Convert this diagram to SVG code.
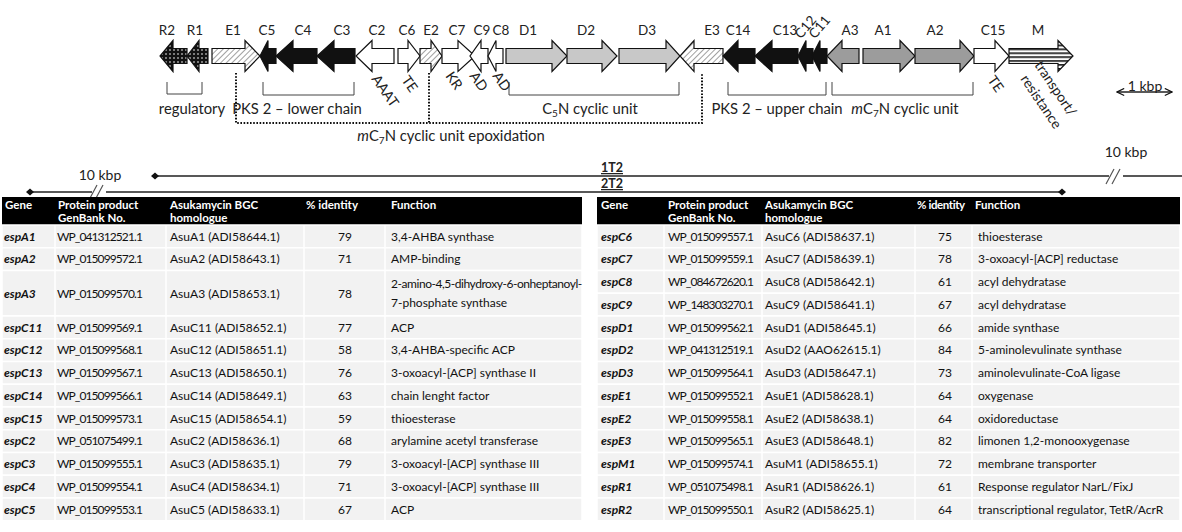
<svg xmlns="http://www.w3.org/2000/svg" width="1182" height="532" viewBox="0 0 1182 532">
<defs>
<pattern id="dots" width="4" height="4" patternUnits="userSpaceOnUse"><rect width="4" height="4" fill="#111"/><circle cx="2" cy="2" r="0.8" fill="#fff"/></pattern>
<pattern id="hatch" width="4" height="4" patternUnits="userSpaceOnUse" patternTransform="rotate(45)"><rect width="4" height="4" fill="#fff"/><line x1="0" y1="0" x2="0" y2="4" stroke="#777" stroke-width="1.4"/></pattern>
<pattern id="stripes" width="10" height="3.9" y="48.5" patternUnits="userSpaceOnUse"><rect width="10" height="3.9" fill="#fff"/><rect y="0" width="10" height="1.6" fill="#111"/></pattern>
<marker id="ah" viewBox="0 0 10 10" refX="9" refY="5" markerWidth="9" markerHeight="9" orient="auto-start-reverse" markerUnits="userSpaceOnUse"><path d="M1,1 L9,5 L1,9" fill="none" stroke="#111" stroke-width="1.3"/></marker>
</defs>
<style>
text{font-family:Lato,"Liberation Sans",sans-serif;fill:#222}
.gl{font-size:13.5px;text-anchor:middle}
.lb{font-size:14.8px}
.rl{font-size:14px}
.g{stroke:#111;stroke-width:1.2;stroke-linejoin:miter}
.blk{fill:#111}.wht{fill:#fff}.lg{fill:#c8c8c8}.mg{fill:#9c9c9c}
.hat{fill:url(#hatch)}.dot{fill:url(#dots)}.str{fill:url(#stripes)}
.br{fill:none;stroke:#444;stroke-width:1}
.dl{fill:none;stroke:#111;stroke-width:2;stroke-dasharray:1.6 1.6}
.sl{stroke:#222;stroke-width:1.3;fill:none}
.th{font-size:11.5px;fill:#fff;font-weight:700}
.td{font-size:12px;fill:#111}
.wp{letter-spacing:-0.9px}
.gn{font-weight:700;font-style:italic}
.c{text-anchor:middle}
.hd{fill:#000}
.row{fill:#f2f2f2;stroke:#fff;stroke-width:1.5}
</style>

<g id="gene-labels">
<text class="gl" x="167" y="35">R2</text><text class="gl" x="195" y="35">R1</text><text class="gl" x="233" y="35">E1</text><text class="gl" x="267" y="35">C5</text><text class="gl" x="303" y="35">C4</text><text class="gl" x="342" y="35">C3</text><text class="gl" x="377" y="35">C2</text><text class="gl" x="407" y="35">C6</text><text class="gl" x="431" y="35">E2</text><text class="gl" x="457" y="35">C7</text><text class="gl" x="482" y="35">C9</text><text class="gl" x="501" y="35">C8</text><text class="gl" x="528" y="35">D1</text><text class="gl" x="586" y="35">D2</text><text class="gl" x="647" y="35">D3</text><text class="gl" x="712" y="35">E3</text><text class="gl" x="738" y="35">C14</text><text class="gl" x="785" y="35">C13</text>
<text class="gl" x="0" y="0" transform="translate(809,30) rotate(-50)">C12</text><text class="gl" x="0" y="0" transform="translate(823,30) rotate(-50)">C11</text>
<text class="gl" x="850" y="35">A3</text><text class="gl" x="883" y="35">A1</text><text class="gl" x="935" y="35">A2</text><text class="gl" x="993" y="35">C15</text><text class="gl" x="1038" y="35">M</text>
</g>

<g id="genes" class="g">
<polygon id="R2" class="dot" points="187,48.5 173,48.5 173,40.5 160,56 173,71.5 173,63.5 187,63.5"/>
<polygon id="R1" class="dot" points="208,48.5 199,48.5 199,40.5 187,56 199,71.5 199,63.5 208,63.5"/>
<polygon id="E1" class="hat" points="212,48.5 245,48.5 245,40.5 260,56 245,71.5 245,63.5 212,63.5"/>
<polygon id="C5" class="blk" points="276,48.5 268,48.5 268,40.5 260,56 268,71.5 268,63.5 276,63.5"/>
<polygon id="C4" class="blk" points="317,48.5 293,48.5 293,40.5 276,56 293,71.5 293,63.5 317,63.5"/>
<polygon id="C3" class="blk" points="355,48.5 334,48.5 334,40.5 317,56 334,71.5 334,63.5 355,63.5"/>
<polygon id="C2" class="wht" points="394,48.5 372,48.5 372,40.5 356,56 372,71.5 372,63.5 394,63.5"/>
<polygon id="C6" class="wht" points="398,48.5 408,48.5 408,40.5 420,56 408,71.5 408,63.5 398,63.5"/>
<polygon id="E2" class="hat" points="420,48.5 431,48.5 431,40.5 442,56 431,71.5 431,63.5 420,63.5"/>
<polygon id="C7" class="wht" points="442,48.5 458,48.5 458,40.5 475,56 458,71.5 458,63.5 442,63.5"/>
<polygon id="C9" class="wht" points="488,48.5 481,48.5 481,40.5 470,56 481,71.5 481,63.5 488,63.5"/>
<polygon id="C8" class="wht" points="503,48.5 496,48.5 496,40.5 488,56 496,71.5 496,63.5 503,63.5"/>
<polygon id="D1" class="lg" points="506,48.5 552,48.5 552,40.5 567,56 552,71.5 552,63.5 506,63.5"/>
<polygon id="D2" class="lg" points="567,48.5 602,48.5 602,40.5 617,56 602,71.5 602,63.5 567,63.5"/>
<polygon id="D3" class="lg" points="619,48.5 666,48.5 666,40.5 680,56 666,71.5 666,63.5 619,63.5"/>
<polygon id="E3" class="hat" points="723,48.5 694,48.5 694,40.5 680,56 694,71.5 694,63.5 723,63.5"/>
<polygon id="C14" class="blk" points="755,48.5 738,48.5 738,40.5 723,56 738,71.5 738,63.5 755,63.5"/>
<polygon id="C13" class="blk" points="798,48.5 772,48.5 772,40.5 755,56 772,71.5 772,63.5 798,63.5"/>
<polygon id="C12" class="blk" points="813,48.5 806,48.5 806,40.5 798,56 806,71.5 806,63.5 813,63.5"/>
<polygon id="C11" class="blk" points="827,48.5 820,48.5 820,40.5 812,56 820,71.5 820,63.5 827,63.5"/>
<polygon id="A3" class="mg" points="859,48.5 842,48.5 842,40.5 827,56 842,71.5 842,63.5 859,63.5"/>
<polygon id="A1" class="mg" points="863,48.5 900,48.5 900,40.5 915,56 900,71.5 900,63.5 863,63.5"/>
<polygon id="A2" class="mg" points="915,48.5 960,48.5 960,40.5 974,56 960,71.5 960,63.5 915,63.5"/>
<polygon id="C15" class="wht" points="974,48.5 995,48.5 995,40.5 1009,56 995,71.5 995,63.5 974,63.5"/>
<polygon id="M" class="str" points="1009,48.5 1058,48.5 1058,40.5 1073,56 1058,71.5 1058,63.5 1009,63.5"/>
</g>

<g id="annotations">
<path class="br" d="M167,82V94H202V82 M263,82V95H354V82 M509,82V95H679V82 M728,82V95H826V82 M832,82V95H973V82"/>
<path class="dl" d="M236,73V123H702V73 M429,73V123"/>
<text class="lb c" x="192" y="114">regulatory</text>
<text class="lb c" x="297" y="114">PKS 2 – lower chain</text>
<text class="lb c" x="590" y="114">C<tspan font-size="10" dy="3">5</tspan><tspan dy="-3">N cyclic unit</tspan></text>
<text class="lb c" x="777" y="114">PKS 2 – upper chain</text>
<text class="lb c" x="905" y="114"><tspan font-style="italic">m</tspan>C<tspan font-size="10" dy="3">7</tspan><tspan dy="-3">N cyclic unit</tspan></text>
<text class="lb c" x="451" y="141"><tspan font-style="italic">m</tspan>C<tspan font-size="10" dy="3">7</tspan><tspan dy="-3">N cyclic unit epoxidation</tspan></text>
<text class="rl" transform="translate(371,79) rotate(55)">AAAT</text>
<text class="rl" transform="translate(401,80) rotate(55)">TE</text>
<text class="rl" transform="translate(445,76) rotate(55)">KR</text>
<text class="rl" transform="translate(469,76) rotate(55)">AD</text>
<text class="rl" transform="translate(492,76) rotate(55)">AD</text>
<text class="rl" transform="translate(987,80) rotate(55)">TE</text>
<text class="rl" transform="translate(1034,65) rotate(56)">transport/</text>
<text class="rl" transform="translate(1020,79) rotate(56)">resistance</text>
</g>

<g id="scale">
<line class="sl" x1="1117" y1="92" x2="1172" y2="92" marker-start="url(#ah)" marker-end="url(#ah)"/>
<text class="rl c" x="1145" y="91">1 kbp</text>
<text class="rl c" x="1126" y="157">10 kbp</text>
<text class="rl c" x="100" y="180">10 kbp</text>
</g>

<g id="contigs">
<path class="sl" d="M155,176H1109 M1123,176H1182 M30,192H92 M106,192H1062"/>
<path d="M151,176l4,-3.5l4,3.5l-4,3.5z M26,192l4,-3.5l4,3.5l-4,3.5z M1058,192l4,-3.5l4,3.5l-4,3.5z" fill="#111"/>
<path d="M1106,184l8,-15 M1112,184l8,-15 M89,200l8,-15 M95,200l8,-15" stroke="#555" stroke-width="1.2" fill="none"/>
<text class="c" x="612" y="172" font-size="12.5" font-weight="700" text-decoration="underline">1T2</text>
<text class="c" x="612" y="188" font-size="12.5" font-weight="700" text-decoration="underline">2T2</text>
</g>

<g id="table-left">
<rect class="hd" x="2" y="197" width="580" height="28"/>
<text class="th" x="5" y="208.5">Gene</text><text class="th" x="58" y="208.5">Protein product</text><text class="th" x="58" y="221.8">GenBank  No.</text><text class="th" x="170" y="208.5">Asukamycin BGC</text><text class="th" x="170" y="221.8">homologue</text><text class="th" x="306" y="208.5">% identity</text><text class="th" x="391" y="208.5">Function</text>
<g>
<rect class="row" x="2" y="225" width="580" height="22.75"/>
<rect class="row" x="2" y="247.75" width="580" height="22.75"/>
<rect class="row" x="2" y="270.5" width="580" height="45.5"/>
<rect class="row" x="2" y="316" width="580" height="22.75"/>
<rect class="row" x="2" y="338.75" width="580" height="22.75"/>
<rect class="row" x="2" y="361.5" width="580" height="22.75"/>
<rect class="row" x="2" y="384.25" width="580" height="22.75"/>
<rect class="row" x="2" y="407" width="580" height="22.75"/>
<rect class="row" x="2" y="429.75" width="580" height="22.75"/>
<rect class="row" x="2" y="452.5" width="580" height="22.75"/>
<rect class="row" x="2" y="475.25" width="580" height="22.75"/>
<rect class="row" x="2" y="498" width="580" height="22.75"/>
<path d="M55,225V520.75 M166,225V520.75 M304,225V520.75 M385,225V520.75" stroke="#fff" stroke-width="1.5"/>
</g>
<g>
<text class="td gn" x="4" y="240.5">espA1</text><text class="td wp" x="57" y="240.5">WP_041312521.1</text><text class="td" x="170" y="240.5">AsuA1 (ADI58644.1)</text><text class="td c" x="345" y="240.5">79</text><text class="td" x="391" y="240.5">3,4-AHBA synthase</text>
<text class="td gn" x="4" y="263.2">espA2</text><text class="td wp" x="57" y="263.2">WP_015099572.1</text><text class="td" x="170" y="263.2">AsuA2 (ADI58643.1)</text><text class="td c" x="345" y="263.2">71</text><text class="td" x="391" y="263.2">AMP-binding</text>
<text class="td gn" x="4" y="297.5">espA3</text><text class="td wp" x="57" y="297.5">WP_015099570.1</text><text class="td" x="170" y="297.5">AsuA3 (ADI58653.1)</text><text class="td c" x="345" y="297.5">78</text><text class="td" x="391" y="288" letter-spacing="-0.45">2-amino-4,5-dihydroxy-6-onheptanoyl-</text><text class="td" x="391" y="307">7-phosphate synthase</text>
<text class="td gn" x="4" y="331.6">espC11</text><text class="td wp" x="57" y="331.6">WP_015099569.1</text><text class="td" x="170" y="331.6">AsuC11 (ADI58652.1)</text><text class="td c" x="345" y="331.6">77</text><text class="td" x="391" y="331.6">ACP</text>
<text class="td gn" x="4" y="354.4">espC12</text><text class="td wp" x="57" y="354.4">WP_015099568.1</text><text class="td" x="170" y="354.4">AsuC12 (ADI58651.1)</text><text class="td c" x="345" y="354.4">58</text><text class="td" x="391" y="354.4">3,4-AHBA-specific ACP</text>
<text class="td gn" x="4" y="377.1">espC13</text><text class="td wp" x="57" y="377.1">WP_015099567.1</text><text class="td" x="170" y="377.1">AsuC13 (ADI58650.1)</text><text class="td c" x="345" y="377.1">76</text><text class="td" x="391" y="377.1">3-oxoacyl-[ACP] synthase II</text>
<text class="td gn" x="4" y="399.9">espC14</text><text class="td wp" x="57" y="399.9">WP_015099566.1</text><text class="td" x="170" y="399.9">AsuC14 (ADI58649.1)</text><text class="td c" x="345" y="399.9">63</text><text class="td" x="391" y="399.9">chain lenght factor</text>
<text class="td gn" x="4" y="422.6">espC15</text><text class="td wp" x="57" y="422.6">WP_015099573.1</text><text class="td" x="170" y="422.6">AsuC15 (ADI58654.1)</text><text class="td c" x="345" y="422.6">59</text><text class="td" x="391" y="422.6">thioesterase</text>
<text class="td gn" x="4" y="445.4">espC2</text><text class="td wp" x="57" y="445.4">WP_051075499.1</text><text class="td" x="170" y="445.4">AsuC2 (ADI58636.1)</text><text class="td c" x="345" y="445.4">68</text><text class="td" x="391" y="445.4">arylamine acetyl transferase</text>
<text class="td gn" x="4" y="468.1">espC3</text><text class="td wp" x="57" y="468.1">WP_015099555.1</text><text class="td" x="170" y="468.1">AsuC3 (ADI58635.1)</text><text class="td c" x="345" y="468.1">79</text><text class="td" x="391" y="468.1">3-oxoacyl-[ACP] synthase III</text>
<text class="td gn" x="4" y="490.9">espC4</text><text class="td wp" x="57" y="490.9">WP_015099554.1</text><text class="td" x="170" y="490.9">AsuC4 (ADI58634.1)</text><text class="td c" x="345" y="490.9">71</text><text class="td" x="391" y="490.9">3-oxoacyl-[ACP] synthase III</text>
<text class="td gn" x="4" y="513.6">espC5</text><text class="td wp" x="57" y="513.6">WP_015099553.1</text><text class="td" x="170" y="513.6">AsuC5 (ADI58633.1)</text><text class="td c" x="345" y="513.6">67</text><text class="td" x="391" y="513.6">ACP</text>
</g>
</g>

<g id="table-right">
<rect class="hd" x="597" y="197" width="583" height="28"/>
<text class="th" x="601" y="208.5">Gene</text><text class="th" x="668" y="208.5">Protein product</text><text class="th" x="668" y="221.8">GenBank No.</text><text class="th" x="765" y="208.5">Asukamycin BGC</text><text class="th" x="765" y="221.8">homologue</text><text class="th" x="917" y="208.5" letter-spacing="-0.4">% identity</text><text class="th" x="975" y="208.5">Function</text>
<g>
<rect class="row" x="597" y="225" width="583" height="22.75"/>
<rect class="row" x="597" y="247.75" width="583" height="22.75"/>
<rect class="row" x="597" y="270.5" width="583" height="22.75"/>
<rect class="row" x="597" y="293.25" width="583" height="22.75"/>
<rect class="row" x="597" y="316" width="583" height="22.75"/>
<rect class="row" x="597" y="338.75" width="583" height="22.75"/>
<rect class="row" x="597" y="361.5" width="583" height="22.75"/>
<rect class="row" x="597" y="384.25" width="583" height="22.75"/>
<rect class="row" x="597" y="407" width="583" height="22.75"/>
<rect class="row" x="597" y="429.75" width="583" height="22.75"/>
<rect class="row" x="597" y="452.5" width="583" height="22.75"/>
<rect class="row" x="597" y="475.25" width="583" height="22.75"/>
<rect class="row" x="597" y="498" width="583" height="22.75"/>
<path d="M664,225V520.75 M762,225V520.75 M915,225V520.75 M972,225V520.75" stroke="#fff" stroke-width="1.5"/>
</g>
<g>
<text class="td gn" x="601" y="240.5">espC6</text><text class="td wp" x="668" y="240.5">WP_015099557.1</text><text class="td" x="765" y="240.5">AsuC6 (ADI58637.1)</text><text class="td c" x="945" y="240.5">75</text><text class="td" x="978" y="240.5">thioesterase</text>
<text class="td gn" x="601" y="263.2">espC7</text><text class="td wp" x="668" y="263.2">WP_015099559.1</text><text class="td" x="765" y="263.2">AsuC7 (ADI58639.1)</text><text class="td c" x="945" y="263.2">78</text><text class="td" x="978" y="263.2">3-oxoacyl-[ACP] reductase</text>
<text class="td gn" x="601" y="286">espC8</text><text class="td wp" x="668" y="286">WP_084672620.1</text><text class="td" x="765" y="286">AsuC8 (ADI58642.1)</text><text class="td c" x="945" y="286">61</text><text class="td" x="978" y="286">acyl dehydratase</text>
<text class="td gn" x="601" y="308.8">espC9</text><text class="td wp" x="668" y="308.8">WP_148303270.1</text><text class="td" x="765" y="308.8">AsuC9 (ADI58641.1)</text><text class="td c" x="945" y="308.8">67</text><text class="td" x="978" y="308.8">acyl dehydratase</text>
<text class="td gn" x="601" y="331.6">espD1</text><text class="td wp" x="668" y="331.6">WP_015099562.1</text><text class="td" x="765" y="331.6">AsuD1 (ADI58645.1)</text><text class="td c" x="945" y="331.6">66</text><text class="td" x="978" y="331.6">amide synthase</text>
<text class="td gn" x="601" y="354.4">espD2</text><text class="td wp" x="668" y="354.4">WP_041312519.1</text><text class="td" x="765" y="354.4">AsuD2 (AAO62615.1)</text><text class="td c" x="945" y="354.4">84</text><text class="td" x="978" y="354.4">5-aminolevulinate synthase</text>
<text class="td gn" x="601" y="377.1">espD3</text><text class="td wp" x="668" y="377.1">WP_015099564.1</text><text class="td" x="765" y="377.1">AsuD3 (ADI58647.1)</text><text class="td c" x="945" y="377.1">73</text><text class="td" x="978" y="377.1">aminolevulinate-CoA ligase</text>
<text class="td gn" x="601" y="399.9">espE1</text><text class="td wp" x="668" y="399.9">WP_015099552.1</text><text class="td" x="765" y="399.9">AsuE1 (ADI58628.1)</text><text class="td c" x="945" y="399.9">64</text><text class="td" x="978" y="399.9">oxygenase</text>
<text class="td gn" x="601" y="422.6">espE2</text><text class="td wp" x="668" y="422.6">WP_015099558.1</text><text class="td" x="765" y="422.6">AsuE2 (ADI58638.1)</text><text class="td c" x="945" y="422.6">64</text><text class="td" x="978" y="422.6">oxidoreductase</text>
<text class="td gn" x="601" y="445.4">espE3</text><text class="td wp" x="668" y="445.4">WP_015099565.1</text><text class="td" x="765" y="445.4">AsuE3 (ADI58648.1)</text><text class="td c" x="945" y="445.4">82</text><text class="td" x="978" y="445.4">limonen 1,2-monooxygenase</text>
<text class="td gn" x="601" y="468.1">espM1</text><text class="td wp" x="668" y="468.1">WP_015099574.1</text><text class="td" x="765" y="468.1">AsuM1 (ADI58655.1)</text><text class="td c" x="945" y="468.1">72</text><text class="td" x="978" y="468.1">membrane transporter</text>
<text class="td gn" x="601" y="490.9">espR1</text><text class="td wp" x="668" y="490.9">WP_051075498.1</text><text class="td" x="765" y="490.9">AsuR1 (ADI58626.1)</text><text class="td c" x="945" y="490.9">61</text><text class="td" x="978" y="490.9">Response regulator NarL/FixJ</text>
<text class="td gn" x="601" y="513.6">espR2</text><text class="td wp" x="668" y="513.6">WP_015099550.1</text><text class="td" x="765" y="513.6">AsuR2 (ADI58625.1)</text><text class="td c" x="945" y="513.6">64</text><text class="td" x="978" y="513.6">transcriptional regulator, TetR/AcrR</text>
</g>
</g>
</svg>
